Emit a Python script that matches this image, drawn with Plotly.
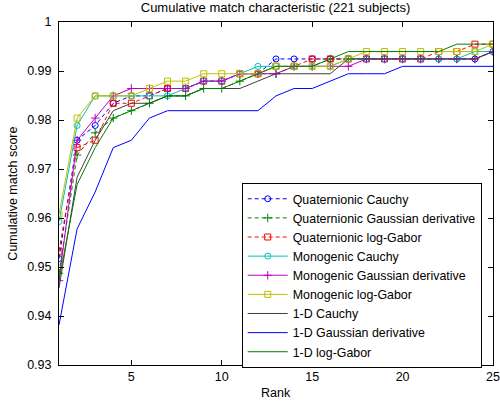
import plotly.graph_objects as go

rank = list(range(1, 26))

quat_cauchy = [0.95173, 0.97587, 0.97888, 0.98341, 0.98492, 0.98492, 0.98643, 0.98643, 0.98793, 0.98793,
               0.98944, 0.98944, 0.99246, 0.99246, 0.99246, 0.99246, 0.99246, 0.99246, 0.99246, 0.99246,
               0.99246, 0.99246, 0.99246, 0.99246, 0.99397]
quat_gauss = [0.94872, 0.97285, 0.97738, 0.98039, 0.98190, 0.98341, 0.98492, 0.98492, 0.98643, 0.98643,
              0.98793, 0.98944, 0.98944, 0.99095, 0.99095, 0.99246, 0.99246, 0.99246, 0.99246, 0.99246,
              0.99246, 0.99246, 0.99246, 0.99246, 0.99397]
quat_loggabor = [0.95324, 0.97436, 0.97587, 0.98341, 0.98341, 0.98492, 0.98643, 0.98643, 0.98793, 0.98793,
                 0.98944, 0.98944, 0.99095, 0.99095, 0.99246, 0.99246, 0.99246, 0.99246, 0.99246, 0.99246,
                 0.99246, 0.99397, 0.99397, 0.99548, 0.99548]
mono_cauchy = [0.95928, 0.97888, 0.98492, 0.98492, 0.98492, 0.98492, 0.98492, 0.98643, 0.98793, 0.98793,
               0.98944, 0.99095, 0.99095, 0.99095, 0.99095, 0.99095, 0.99246, 0.99246, 0.99246, 0.99246,
               0.99246, 0.99246, 0.99246, 0.99397, 0.99397]
mono_gauss = [0.94721, 0.97587, 0.98039, 0.98492, 0.98643, 0.98643, 0.98643, 0.98643, 0.98793, 0.98793,
              0.98944, 0.98944, 0.98944, 0.99095, 0.99095, 0.99095, 0.99095, 0.99246, 0.99246, 0.99246,
              0.99246, 0.99246, 0.99246, 0.99246, 0.99397]
mono_loggabor = [0.96078, 0.98039, 0.98492, 0.98492, 0.98492, 0.98643, 0.98793, 0.98793, 0.98944, 0.98944,
                 0.98944, 0.98944, 0.99095, 0.99095, 0.99095, 0.99095, 0.99246, 0.99397, 0.99397, 0.99397,
                 0.99397, 0.99397, 0.99397, 0.99397, 0.99548]
d1_cauchy = [0.94570, 0.96833, 0.97587, 0.98190, 0.98341, 0.98341, 0.98492, 0.98492, 0.98643, 0.98643,
             0.98643, 0.98793, 0.98944, 0.98944, 0.98944, 0.98944, 0.99246, 0.99246, 0.99246, 0.99246,
             0.99246, 0.99246, 0.99246, 0.99246, 0.99397]
d1_gauss = [0.93816, 0.95777, 0.96531, 0.97436, 0.97587, 0.98039, 0.98190, 0.98190, 0.98190, 0.98190,
            0.98190, 0.98190, 0.98492, 0.98643, 0.98643, 0.98793, 0.98944, 0.98944, 0.98944, 0.99095,
            0.99095, 0.99095, 0.99095, 0.99095, 0.99095]
d1_loggabor = [0.94721, 0.96682, 0.97436, 0.98039, 0.98190, 0.98341, 0.98492, 0.98492, 0.98643, 0.98643,
               0.98793, 0.98944, 0.99095, 0.99095, 0.99095, 0.99246, 0.99397, 0.99397, 0.99397, 0.99397,
               0.99397, 0.99397, 0.99548, 0.99548, 0.99548]

y_ticks = [0.93, 0.94, 0.95, 0.96, 0.97, 0.98, 0.99, 1.0]
y_tick_labels = ["0.93", "0.94", "0.95", "0.96", "0.97", "0.98", "0.99", "1"]
x_ticks = [5, 10, 15, 20, 25]

series = [
    ("Quaternionic Cauchy", quat_cauchy, "#0000ff", "4px,3px", "circle-open"),
    ("Quaternionic Gaussian derivative", quat_gauss, "#008000", "4px,3px", "cross-thin-open"),
    ("Quaternionic log-Gabor", quat_loggabor, "#ff0000", "4px,3px", "square-open"),
    ("Monogenic Cauchy", mono_cauchy, "#00bfbf", "solid", "circle-open"),
    ("Monogenic Gaussian derivative", mono_gauss, "#bf00bf", "solid", "cross-thin-open"),
    ("Monogenic log-Gabor", mono_loggabor, "#bfbf00", "solid", "square-open"),
    ("1-D Cauchy", d1_cauchy, "#404040", "solid", None),
    ("1-D Gaussian derivative", d1_gauss, "#0000ff", "solid", None),
    ("1-D log-Gabor", d1_loggabor, "#008000", "solid", None),
]

fig = go.Figure()
for name, vals, color, dash, sym in series:
    if sym:
        fig.add_trace(go.Scatter(
            x=rank, y=vals, name=name, mode="lines+markers",
            line=dict(color=color, width=1, dash=dash),
            marker=dict(symbol=sym, size=6, color=color, line=dict(width=1, color=color)),
        ))
    else:
        fig.add_trace(go.Scatter(
            x=rank, y=vals, name=name, mode="lines",
            line=dict(color=color, width=1, dash=dash),
        ))

font_family = "Liberation Sans, Arial, sans-serif"
fig.update_layout(
    width=500, height=407,
    margin=dict(l=59, r=7, t=22, b=42, autoexpand=False),
    paper_bgcolor="white", plot_bgcolor="white",
    font=dict(family=font_family, size=12, color="black"),
    title=dict(text="Cumulative match characteristic (221 subjects)", x=0.551, xanchor="center",
               y=0.982, yanchor="middle", font=dict(size=13)),
    showlegend=True,
    legend=dict(x=0.421, y=0.53, xanchor="left", yanchor="top", bgcolor="white",
                bordercolor="black", borderwidth=1, font=dict(size=12.4),
                tracegroupgap=0, itemwidth=40),
    xaxis=dict(range=[1, 25], tickvals=x_ticks, ticks="inside", ticklen=5, tickcolor="black",
               showline=True, linecolor="black", linewidth=1, mirror="ticks", showgrid=False,
               zeroline=False, automargin=False, tickfont=dict(size=12.5)),
    yaxis=dict(range=[0.93, 1.0], tickvals=y_ticks, ticktext=y_tick_labels, ticks="inside",
               ticklen=5, tickcolor="black", showline=True, linecolor="black", linewidth=1,
               mirror="ticks", showgrid=False, zeroline=False, automargin=False,
               tickfont=dict(size=12.5), ticklabelstandoff=4),
    annotations=[
        dict(text="Rank", xref="paper", yref="paper", x=0.5, y=-0.082, xanchor="center",
             yanchor="middle", showarrow=False, font=dict(size=12.5)),
        dict(text="Cumulative match score", xref="paper", yref="paper", x=-0.108, y=0.5,
             xanchor="center", yanchor="middle", textangle=-90, showarrow=False,
             font=dict(size=12.5)),
    ],
)

fig.write_html("out.html", config={"displayModeBar": False},
               post_script="document.body.style.margin='0';")
